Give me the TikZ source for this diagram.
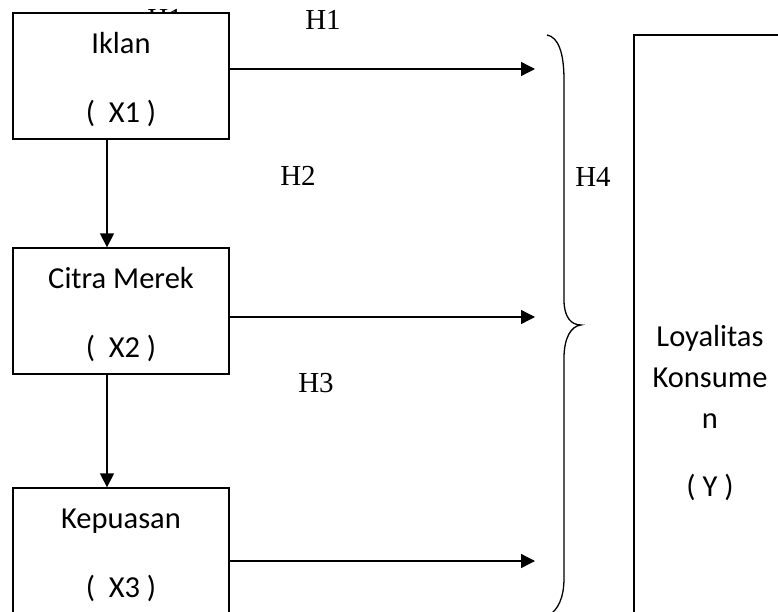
\documentclass[tikz,border=0pt]{standalone}
\usepackage{fontspec}
\setmainfont{Liberation Serif}
\newfontfamily\boxfont{Carlito}
\usetikzlibrary{arrows.meta}
\begin{document}
\begin{tikzpicture}[x=1pt,y=-1pt,line width=1.3pt,
  var/.style={draw,fill=white,align=center,inner sep=0pt,font=\boxfont\fontsize{30.5}{41}\selectfont},
  cause/.style={var,minimum width=216,minimum height=126,text height=98pt},
  hyp/.style={font=\fontsize{29}{34}\selectfont,inner sep=0pt},
  arr/.style={-{Triangle[length=14pt,width=14pt]}}]
\useasboundingbox (0,0) rectangle (778,612);
\clip (0,0) rectangle (778,612);
% label half hidden behind the first box
\node[hyp] (hHid) at (165,19) {H1};
\node[cause] (iklan) at (121,76) {Iklan\\[28pt](\ \ X1 )};
\node[cause] (citra) at (121,311) {Citra Merek\\[28pt](\ \ X2 )};
\node[cause] (puas) at (121,551) {Kepuasan\\[28pt](\ \ X3 )};
\node[var,minimum width=152,minimum height=756] (loyal) at (710,413) {Loyalitas\\Konsume\\n\\[27pt]( Y )};
\node[hyp] (hA) at (323,20) {H1};
\node[hyp] (hB) at (298,176) {H2};
\node[hyp] (hC) at (316,383) {H3};
\node[hyp] (hD) at (593,177) {H4};
\coordinate (vx) at (107,0);
\draw[arr] (iklan.south -| vx) -- (citra.north -| vx);
\draw[arr] (citra.south -| vx) -- (puas.north -| vx);
\coordinate (tA) at (535,69);
\coordinate (tB) at (535,317);
\coordinate (tC) at (535,561);
\draw[arr] (iklan.east |- tA) -- (tA);
\draw[arr] (citra.east |- tB) -- (tB);
\draw[arr] (puas.east |- tC) -- (tC);
% brace
\draw (547,35) .. controls (558,37) and (564,52) .. (564,80) -- (564,300)
  .. controls (564,317) and (571,325) .. (581,325)
  .. controls (571,326) and (564,338) .. (564,358) -- (564,578)
  .. controls (564,598) and (558,610) .. (548,616);
\end{tikzpicture}
\end{document}
